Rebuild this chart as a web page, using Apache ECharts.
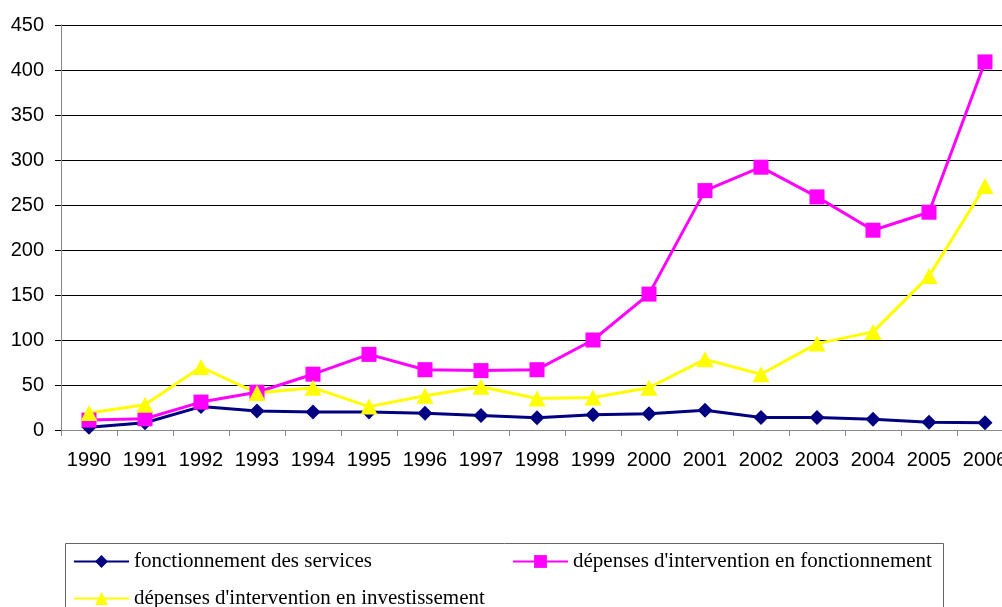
<!DOCTYPE html>
<html>
<head>
<meta charset="utf-8">
<script src="https://cdn.jsdelivr.net/npm/echarts@6/dist/echarts.min.js"></script>
<style>
  html, body { margin: 0; padding: 0; background: #fff; }
  #main { width: 1002px; height: 607px; }
</style>
</head>
<body>
<div id="main"></div>
<script>
var years = ['1990', '1991', '1992', '1993', '1994', '1995', '1996', '1997', '1998',
    '1999', '2000', '2001', '2002', '2003', '2004', '2005', '2006'];

var fonctionnementServices = [3, 8, 26, 21, 20, 20, 18.5, 16, 13.5, 17, 18, 22, 14, 14, 12, 8.5, 8];
var interventionFonctionnement = [11, 12.5, 31, 42, 62, 84, 67, 66, 67, 100, 151, 266, 292, 259, 222, 242, 409];
var interventionInvestissement = [19, 28, 70, 41, 47, 26, 38, 48, 35, 36, 47, 78.5, 62, 96, 109, 171, 271];

var seriesNames = [
    'fonctionnement des services',
    "dépenses d'intervention en fonctionnement",
    "dépenses d'intervention en investissement"
];

var myChart = echarts.init(document.getElementById('main'));

var legendText = {
    fontFamily: 'Liberation Serif',
    fontSize: 21,
    color: '#000'
};

function makeLegend(name, left, top) {
    return {
        data: [name],
        left: left,
        top: top,
        padding: 0,
        itemWidth: 55,
        itemHeight: 16,
        itemGap: 0,
        selectedMode: false,
        textStyle: legendText
    };
}

var option = {
    animation: false,
    backgroundColor: '#fff',
    grid: {
        left: 61,
        top: 25,
        width: 952,
        height: 405,
        containLabel: false,
        outerBoundsMode: 'none'
    },
    legend: [
        makeLegend(seriesNames[0], 73, 551),
        makeLegend(seriesNames[1], 512, 551),
        makeLegend(seriesNames[2], 73, 588)
    ],
    graphic: [{
        type: 'rect',
        shape: { x: 65.5, y: 543.5, width: 878, height: 80 },
        style: { fill: 'none', stroke: '#666', lineWidth: 1 },
        z: -1
    }],
    xAxis: {
        type: 'category',
        data: years,
        boundaryGap: true,
        axisLine: { lineStyle: { color: '#888', width: 1 } },
        axisTick: { show: true, length: 6, lineStyle: { color: '#888' } },
        axisLabel: {
            interval: 0,
            hideOverlap: false,
            margin: 20,
            fontFamily: 'Liberation Sans',
            fontSize: 20,
            color: '#000'
        },
        splitLine: { show: false }
    },
    yAxis: {
        type: 'value',
        min: 0,
        max: 450,
        interval: 50,
        axisLine: { show: true, lineStyle: { color: '#888', width: 1 } },
        axisTick: { show: true, length: 6, lineStyle: { color: '#000' } },
        axisLabel: {
            margin: 17,
            fontFamily: 'Liberation Sans',
            fontSize: 20,
            color: '#000'
        },
        splitLine: { show: true, lineStyle: { color: '#000', width: 1 } }
    },
    series: [
        {
            name: seriesNames[0],
            type: 'line',
            data: fonctionnementServices,
            symbol: 'diamond',
            symbolSize: [15, 15],
            lineStyle: { color: '#000080', width: 3 },
            itemStyle: { color: '#000080' }
        },
        {
            name: seriesNames[1],
            type: 'line',
            data: interventionFonctionnement,
            symbol: 'rect',
            symbolSize: 15,
            lineStyle: { color: '#ff00ff', width: 3 },
            itemStyle: { color: '#ff00ff' }
        },
        {
            name: seriesNames[2],
            type: 'line',
            data: interventionInvestissement,
            symbol: 'triangle',
            symbolSize: [17, 16],
            lineStyle: { color: '#ffff00', width: 3 },
            itemStyle: { color: '#ffff00' }
        }
    ]
};

myChart.setOption(option);
</script>
</body>
</html>
